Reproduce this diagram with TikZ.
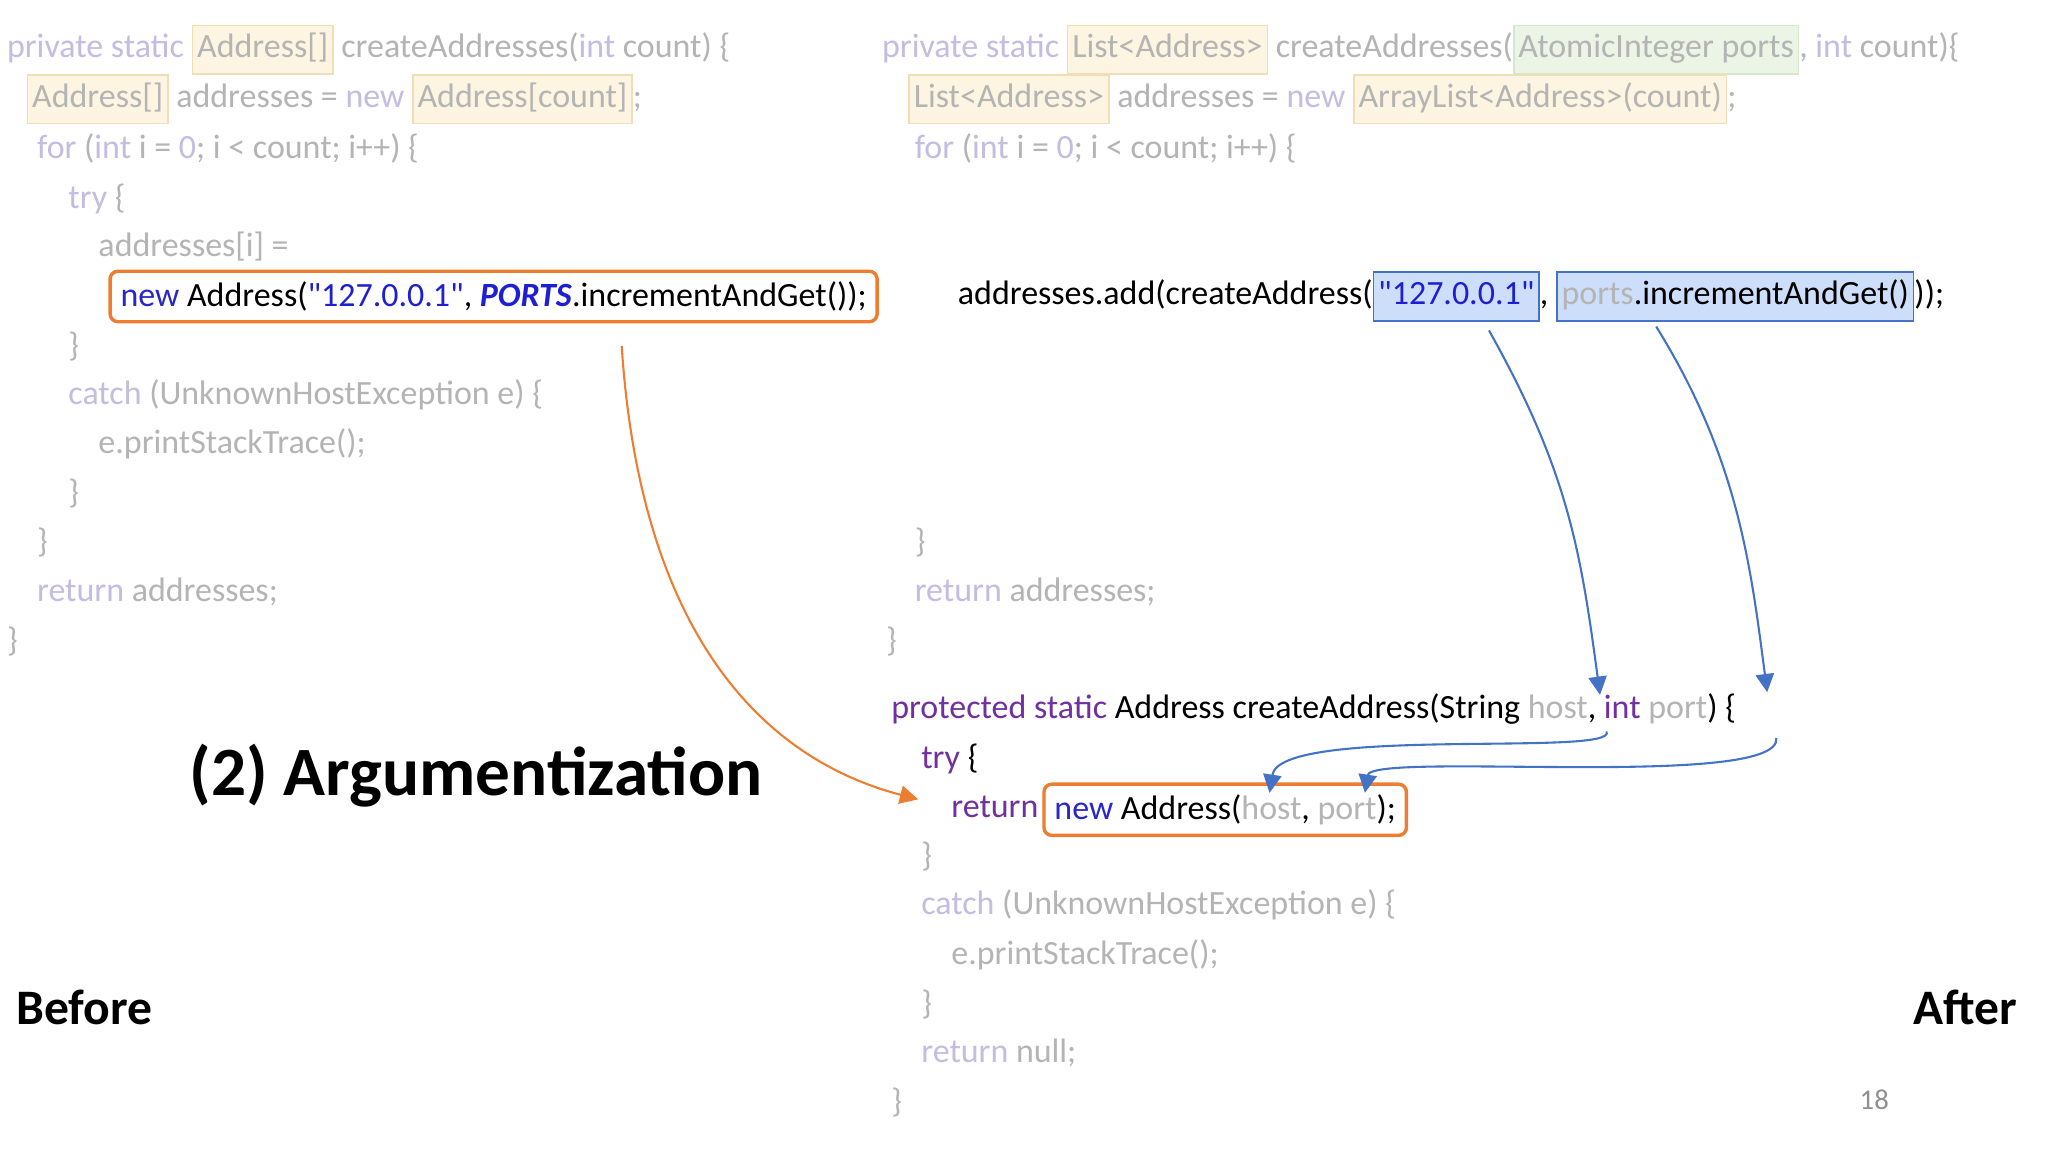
\documentclass[tikz,border=0pt]{standalone}
\usepackage{fontspec}
\setmainfont{Carlito}
\newfontfamily\qfont{Carlito}[Ligatures=ResetAll]
\usetikzlibrary{arrows.meta}
\definecolor{fkw}{RGB}{196,188,225}
\definecolor{ftx}{RGB}{180,180,180}
\definecolor{ffill}{RGB}{253,245,225}
\definecolor{fline}{RGB}{240,222,185}
\definecolor{gfill}{RGB}{236,244,230}
\definecolor{gline}{RGB}{215,230,205}
\definecolor{bkw}{RGB}{112,48,160}
\definecolor{bnew}{RGB}{40,40,200}
\definecolor{strc}{RGB}{30,30,210}
\definecolor{bfill}{RGB}{205,222,250}
\definecolor{bline}{RGB}{68,114,196}
\definecolor{arrb}{RGB}{68,114,196}
\definecolor{arro}{RGB}{237,125,49}
\newcommand{\fk}[1]{\textcolor{fkw}{#1}}
\newcommand{\ft}[1]{\textcolor{ftx}{#1}}
\newcommand{\qq}{{\qfont\symbol{34}}}
\newcommand{\yb}[1]{{\setlength\fboxsep{1.5pt}\setlength\fboxrule{0.6pt}\fcolorbox{fline}{ffill}{\strut #1}}}
\newcommand{\gb}[1]{{\setlength\fboxsep{1.5pt}\setlength\fboxrule{0.6pt}\fcolorbox{gline}{gfill}{\strut #1}}}
\newcommand{\bb}[1]{{\setlength\fboxsep{1.5pt}\setlength\fboxrule{0.6pt}\fcolorbox{bline}{bfill}{\strut #1}}}
\tikzset{
  code/.style={anchor=west,inner sep=0pt,font=\fontsize{13}{15}\selectfont},
  obox/.style={draw=arro,line width=1.3pt,rounded corners=3pt,inner sep=4pt,anchor=west,font=\fontsize{13}{15}\selectfont},
  oarr/.style={draw=arro,line width=0.8pt,-{Triangle[length=7pt,width=7pt]}},
  barr/.style={draw=arrb,line width=0.8pt,-{Triangle[length=7pt,width=7pt]}},
  big/.style={font=\bfseries\fontsize{19}{22}\selectfont,inner sep=0pt},
}
\begin{document}
\begin{tikzpicture}[x=0.5pt,y=-0.5pt]
\useasboundingbox (0,0) rectangle (1568,882);
\fill[white] (0,0) rectangle (1568,882);
% left
\node[code] (l1) at (5,38) {\fk{private static} \yb{\ft{Address[]}} \ft{createAddresses(}\fk{int} \ft{count) \{}};
\node[code] (l2) at (20,76) {\yb{\ft{Address[]}} \ft{addresses =} \fk{new} \yb{\ft{Address[count]}}\ft{;}};
\node[code] (l3) at (28,114) {\fk{for} \ft{(}\fk{int} \ft{i = }\fk{0}\ft{; i < count; i++) \{}};
\node[code] (l4) at (52,152) {\fk{try} \ft{\{}};
\node[code] (l5) at (75,189) {\ft{addresses[i] =}};
\node[obox,fill=white] (lbox) at (83,227) {\textcolor{bnew}{new} Address(\textcolor{strc}{\qq127.0.0.1\qq}, \textcolor{strc}{\textbf{\textit{PORTS}}}.incrementAndGet());};
\node[code] (l7) at (52,265) {\ft{\}}};
\node[code] (l8) at (52,302) {\fk{catch} \ft{(UnknownHostException e) \{}};
\node[code] (l9) at (75,340) {\ft{e.printStackTrace();}};
\node[code] (l10) at (52,378) {\ft{\}}};
\node[code] (l11) at (28,415) {\ft{\}}};
\node[code] (l12) at (28,453) {\fk{return} \ft{addresses;}};
\node[code] (l13) at (5,491) {\ft{\}}};
% right
\node[code] (r1) at (675,38) {\fk{private static} \yb{\ft{List<Address>}} \ft{createAddresses(}\gb{\ft{AtomicInteger ports}}\ft{,} \fk{int} \ft{count)\{}};
\node[code] (r2) at (695,76) {\yb{\ft{List<Address>}} \ft{addresses =} \fk{new} \yb{\ft{ArrayList<Address>(count)}}\ft{;}};
\node[code] (r3) at (700,114) {\fk{for} \ft{(}\fk{int} \ft{i = }\fk{0}\ft{; i < count; i++) \{}};
\node[code] (r4) at (733,227) {addresses.add(createAddress(\bb{\textcolor{strc}{\qq127.0.0.1\qq}}, \bb{\ft{ports}.incrementAndGet()}));};
\node[code] (r5) at (700,415) {\ft{\}}};
\node[code] (r6) at (700,453) {\fk{return} \ft{addresses;}};
\node[code] (r7) at (678,491) {\ft{\}}};
\node[code] (r8) at (682,543) {\textcolor{bkw}{protected static} Address createAddress(String \ft{host}, \textcolor{bkw}{int} \ft{port}) \{};
\node[code] (r9) at (705,581) {\textcolor{bkw}{try} \{};
\node[code] (r10) at (728,618) {\textcolor{bkw}{return}};
\node[obox] (rbox) at (798,620) {\textcolor{bnew}{new} Address(\ft{host}, \ft{port});\hspace{3pt}};
\node[code] (r11) at (705,656) {\ft{\}}};
\node[code] (r12) at (705,693) {\fk{catch} \ft{(UnknownHostException e) \{}};
\node[code] (r13) at (728,731) {\ft{e.printStackTrace();}};
\node[code] (r14) at (705,769) {\ft{\}}};
\node[code] (r15) at (705,806) {\fk{return} \ft{null;}};
\node[code] (r16) at (682,844) {\ft{\}}};
% labels
\node[big,font=\bfseries\fontsize{26.5}{30}\selectfont,anchor=west] (title) at (145,594) {(2) Argumentization};
\node[big,anchor=west] (before) at (12,771) {Before};
\node[big,anchor=east] (after) at (1545,771) {After};
\node[anchor=center,inner sep=0pt,text=ftx!80!black,font=\fontsize{11}{13}\selectfont] (pg) at (1435,842) {18};
% arrows
\coordinate (oa) at (476,265);
\coordinate (ob) at (703,612);
\draw[oarr] (oa) .. controls (490,480) and (580,580) .. (ob);
\coordinate (s1) at (1140,253);
\coordinate (e1) at (1225,532);
\coordinate (s2) at (1268,250);
\coordinate (e2) at (1353,530);
\draw[barr] (s1) .. controls (1200,360) and (1210,420) .. (e1);
\draw[barr] (s2) .. controls (1330,350) and (1340,430) .. (e2);
\coordinate (h1) at (1230,560);
\coordinate (h2) at (972,607);
\coordinate (p1) at (1360,565);
\coordinate (p2) at (1045,607);
\draw[barr] (h1) .. controls (1240,580) and (980,555) .. (h2);
\draw[barr] (p1) .. controls (1365,605) and (1050,575) .. (p2);
\end{tikzpicture}
\end{document}
